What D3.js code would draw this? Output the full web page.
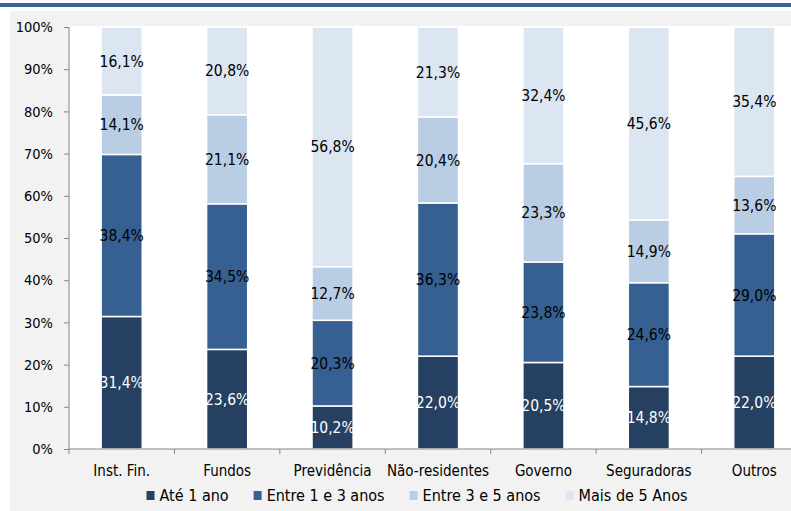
<!DOCTYPE html>
<html><head><meta charset="utf-8">
<script src="https://cdn.jsdelivr.net/npm/d3@7/dist/d3.min.js"></script>
<style>
html,body{margin:0;padding:0;background:#fff;}
svg{display:block;}
text{font-family:"DejaVu Sans Condensed","DejaVu Sans",sans-serif;fill:#000;}
</style></head>
<body>
<svg id="chart" width="791" height="511"></svg>
<script>
const categories = ["Inst. Fin.","Fundos","Previdência","Não-residentes","Governo","Seguradoras","Outros"];
const seriesNames = ["Até 1 ano","Entre 1 e 3 anos","Entre 3 e 5 anos","Mais de 5 Anos"];
const ate1 = [31.4,23.6,10.2,22.0,20.5,14.8,22.0];
const entre1e3 = [38.4,34.5,20.3,36.3,23.8,24.6,29.0];
const entre3e5 = [14.1,21.1,12.7,20.4,23.3,14.9,13.6];
const mais5 = [16.1,20.8,56.8,21.3,32.4,45.6,35.4];
const yTicks = [0,10,20,30,40,50,60,70,80,90,100];
const colors = ["#254061","#376092","#b9cde5","#dce6f2"];
const labelColors = ["#ffffff","#000000","#000000","#000000"];

(function(){
const seriesValues = [ate1, entre1e3, entre3e5, mais5];
const svg = d3.select("#chart");
const FF = '"DejaVu Sans Condensed","DejaVu Sans",sans-serif';

svg.append("rect").attr("x",0).attr("y",3).attr("width",791).attr("height",4).attr("fill","#35659a");
svg.append("rect").attr("x",10).attr("y",11).attr("width",800).attr("height",520).attr("fill","#f2f2f2");

const pLeft = 69, pRight = 807, pTop = 27, pBottom = 449;
svg.append("rect").attr("x",pLeft).attr("y",26).attr("width",pRight-pLeft).attr("height",pBottom-26).attr("fill","#ffffff");

const x = d3.scaleBand().domain(categories).range([pLeft,pRight]).padding(0);
const y = d3.scaleLinear().domain([0,100]).range([pBottom,pTop]);
const barW = x.bandwidth()*0.39;

const table = categories.map((c,i)=>{ const o={cat:c}; seriesNames.forEach((s,j)=>o[s]=seriesValues[j][i]); return o; });
const stack = d3.stack().keys(seriesNames)(table);

const g = svg.append("g");
stack.forEach((layer,j)=>{
  g.selectAll(null).data(layer).enter().append("rect")
    .attr("x",d=>x(d.data.cat)+x.bandwidth()/2-barW/2)
    .attr("width",barW)
    .attr("y",d=>y(d[1]))
    .attr("height",d=>y(d[0])-y(d[1]))
    .attr("fill",colors[j])
    .attr("stroke","#ffffff").attr("stroke-width",1.5);
});
stack.forEach((layer,j)=>{
  g.selectAll(null).data(layer).enter().append("text")
    .attr("x",d=>x(d.data.cat)+x.bandwidth()/2)
    .attr("y",d=>(y(d[0])+y(d[1]))/2)
    .attr("dy","0.36em")
    .attr("text-anchor","middle")
    .style("font-size","15.5px")
    .style("fill",labelColors[j])
    .text(d=>d3.format(".1f")(d.data[layer.key]).replace(".",",")+"%");
});

const yAxis = d3.axisLeft(y).tickValues(yTicks).tickSize(5).tickPadding(11).tickFormat(d=>d+"%");
const ya = svg.append("g").attr("transform",`translate(${pLeft},0)`).call(yAxis);
ya.select(".domain").attr("stroke","#868686").attr("d",`M0,${pTop}V${pBottom}`);
ya.selectAll(".tick line").attr("stroke","#868686");
ya.selectAll(".tick text").style("font-size","14.5px").style("font-family",FF).attr("fill","#000");

const xAxis = d3.axisBottom(x).tickSize(0).tickPadding(16);
const xa = svg.append("g").attr("transform",`translate(0,${pBottom})`).call(xAxis);
xa.select(".domain").attr("stroke","#868686").attr("d",`M${pLeft},0H${pRight}`);
xa.selectAll(".tick text").style("font-size","15px").style("font-family",FF).attr("fill","#000");
const bounds = categories.map(c=>x(c)).concat([pRight]);
xa.selectAll(".bound").data(bounds).enter().append("line").attr("class","bound")
  .attr("x1",d=>d).attr("x2",d=>d).attr("y1",0).attr("y2",5).attr("stroke","#868686");

const lg = svg.append("g");
let cx = 0;
seriesNames.forEach((s,j)=>{
  const it = lg.append("g");
  it.append("rect").attr("x",0).attr("y",-10).attr("width",8).attr("height",9).attr("fill",colors[j]);
  const t = it.append("text").attr("x",13).attr("y",0).style("font-size","16px").text(s);
  const w = 13 + t.node().getComputedTextLength();
  it.attr("transform",`translate(${cx},0)`);
  cx += w + 25;
});
const totalW = cx - 25;
lg.attr("transform",`translate(${417-totalW/2},501)`);
})();
</script>
</body></html>
